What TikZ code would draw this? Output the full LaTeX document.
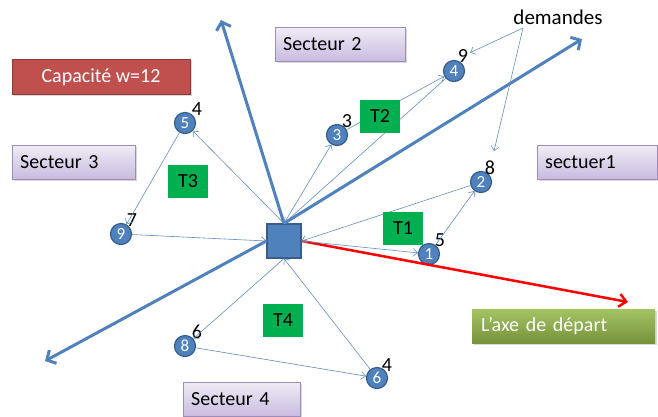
\documentclass[tikz,border=0pt]{standalone}
\usepackage{fontspec}
\setmainfont{Carlito}
\usepackage{xcolor}
\usepackage{tikz}
\usetikzlibrary{arrows.meta,positioning,shadows}
\definecolor{custblue}{HTML}{4F81BD}
\definecolor{custdark}{HTML}{385D8A}
\definecolor{tourgreen}{HTML}{00B050}
\definecolor{secttop}{HTML}{F0ECF6}
\definecolor{sectbot}{HTML}{C9BBDF}
\definecolor{sectline}{HTML}{9E8DB8}
\definecolor{capred}{HTML}{C0504D}
\definecolor{capdark}{HTML}{8C3836}
\definecolor{axetop}{HTML}{A4C463}
\definecolor{axebot}{HTML}{76923C}

\begin{document}
\begin{tikzpicture}[x=1pt,y=-1pt,
  cust/.style={circle,draw=custdark,fill=custblue,line width=1.2pt,inner sep=0pt,minimum size=21pt,text=white,font=\fontsize{17}{17}\selectfont},
  dem/.style={inner sep=0pt,font=\fontsize{20}{20}\selectfont},
  tour/.style={fill=tourgreen,minimum width=40pt,minimum height=33pt,font=\fontsize{20}{20}\selectfont},
  sect/.style={draw=sectline,top color=secttop,bottom color=sectbot,minimum height=34pt,inner xsep=8pt,align=left,anchor=west,
    text width=#1,font=\fontsize{20}{20}\selectfont,drop shadow={shadow xshift=1.5pt,shadow yshift=-1.5pt,opacity=.3}},
  lien/.style={->,draw=custblue!90!white,line width=0.6pt},
  axe/.style={-{Straight Barb[length=7pt,width=15pt]},draw=custblue,line width=3pt},
  >={Straight Barb[length=4.5pt,width=8pt]}]
  \useasboundingbox (0,0) rectangle (658,416);

  % depot and customers
  \node[draw=custdark,fill=custblue,line width=1.2pt,minimum size=34pt,inner sep=0pt] (d) at (284,241) {};
  \node[cust] (c1) at (429,254) {1};
  \node[cust] (c2) at (481,182) {2};
  \node[cust] (c3) at (337,135) {3};
  \node[cust] (c4) at (454,71) {4};
  \node[cust] (c5) at (185,123) {5};
  \node[cust] (c6) at (377,378) {6};
  \node[cust] (c8) at (185,346) {8};
  \node[cust] (c9) at (121,234) {9};

  % demands
  \node[dem] (q1) at (440,240) {5};
  \node[dem] (q2) at (490,168) {8};
  \node[dem] (q3) at (347,121) {3};
  \node[dem] (q4) at (463,56) {9};
  \node[dem] (q5) at (197,109) {4};
  \node[dem] (q6) at (387,365) {4};
  \node[dem] (q8) at (197,332) {6};
  \node[dem] (q9) at (132,220) {7};

  % axes
  \coordinate (nord) at (221,20);
  \coordinate (nordest) at (582,39);
  \coordinate (sudouest) at (45,361);
  \coordinate (depart) at (628,302);
  \draw[axe] (d.north) -- (nord);
  \draw[axe] (d.north) -- (nordest);
  \draw[axe] (d.west) -- (sudouest);
  \draw[-{Straight Barb[length=7pt,width=13pt]},draw=red,line width=2.5pt] (d.east) -- (depart);

  % tours
  \draw[lien] (d.east) -- (c1); \draw[lien] (c1) -- (c2); \draw[lien] (c2) -- (d.east);
  \draw[lien] (d.north) -- (c3); \draw[lien] (c3) -- (c4); \draw[lien] (c4) -- (d.north);
  \draw[lien] (d.north) -- (c5); \draw[lien] (c5) -- (c9); \draw[lien] (c9) -- (d.west);
  \draw[lien] (d.south) -- (c8); \draw[lien] (c8) -- (c6); \draw[lien] (c6) -- (d.south);

  \node[tour] (t1) at (403,228) {T1};
  \node[tour] (t2) at (380,116) {T2};
  \node[tour] (t3) at (188,181) {T3};
  \node[tour] (t4) at (283,320) {T4};

  % sectors and labels
  \node[sect=114pt] (s2) at (275,44) {Secteur 2};
  \node[sect=107pt] (s3) at (12,162) {Secteur 3};
  \node[sect=104pt] (s1) at (537,162) {sectuer1};
  \node[sect=101pt] (s4) at (183,399) {Secteur 4};
  \node[draw=capdark,fill=capred,minimum width=178pt,minimum height=35pt,text=white,font=\fontsize{20}{20}\selectfont,
    drop shadow={shadow xshift=1.5pt,shadow yshift=-1.5pt,opacity=.3}] (cap) at (101,77) {Capacité w=12};
  \node[top color=axetop,bottom color=axebot,anchor=west,minimum height=34pt,inner xsep=9pt,text width=165pt,align=left,
    text=white,font=\fontsize{20}{20}\selectfont,drop shadow={shadow xshift=1.5pt,shadow yshift=-1.5pt,opacity=.3}] (axe) at (472,326) {L’axe de départ};

  \node[font=\fontsize{21}{21}\selectfont] (dm) at (558,17) {demandes};
  \coordinate (dp) at (523,28);
  \draw[lien,shorten >=2pt] (dp) -- (q4);
  \draw[lien,shorten >=10pt] (dp) -- (q2);
\end{tikzpicture}
\end{document}
